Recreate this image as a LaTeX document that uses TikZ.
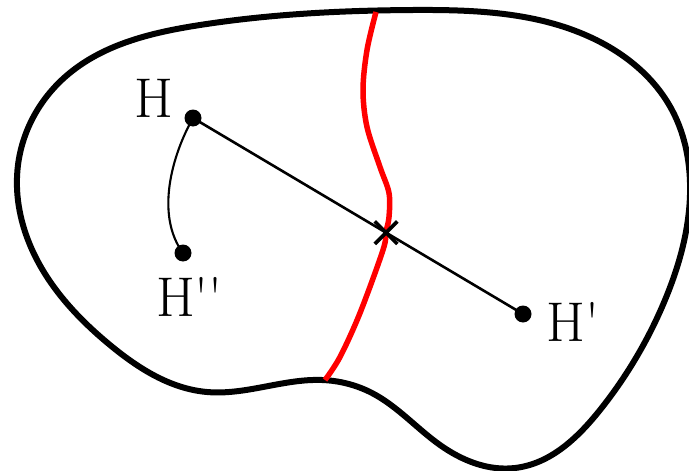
\documentclass[tikz,border=0pt]{standalone}
\usepackage{fontspec}
\usetikzlibrary{shapes.misc,hobby}
\begin{document}
\begin{tikzpicture}[x=1pt,y=-1pt,
  outline/.style={line width=6pt,line join=round},
  redline/.style={line width=5.5pt,red},
  thinline/.style={line width=2.6pt},
  dot/.style={circle,fill=black,inner sep=0pt,minimum size=17pt},
  lbl/.style={inner sep=0pt,font=\fontsize{56}{60}\selectfont},
  crossmark/.style={cross out,draw=black,line width=3.6pt,minimum size=19pt,inner sep=0pt}]
\useasboundingbox (0,0) rectangle (689,471);
% outer region
\draw[outline,use Hobby shortcut,closed=true]
 (413,10) .. (590,37) .. (672,110) .. (690,195) .. (665,300) .. (600,410)
 .. (515,468) .. (440,445) .. (372,393) .. (322,380) .. (207,392)
 .. (110,345) .. (30,245) .. (18,165) .. (65,77) .. (200,25);
% red boundary
\draw[redline] plot[smooth,tension=0.55] coordinates {
 (376,12) (367,50) (363,90) (367,127) (380,167) (389,193) (389,217)
 (386,232) (383,250) (360,313) (340,357) (325,380)};
% points
\node[dot] (H) at (193,118) {};
\node[dot] (Hp) at (523,314) {};
\node[dot] (Hpp) at (183,253) {};
\node[lbl] (HL) at (154,98) {H};
\node[lbl] (HpL) at (573,322) {H\textquotesingle};
\node[lbl] (HppL) at (189.5,297) {H\textquotesingle\textquotesingle};
% connectors
\draw[thinline] (H.center) -- (Hp.center) node[pos=0.585,crossmark] (X) {};
\draw[line width=2.1pt] (H.center) .. controls (172,155) and (155,215) .. (Hpp.center);
\end{tikzpicture}
\end{document}
